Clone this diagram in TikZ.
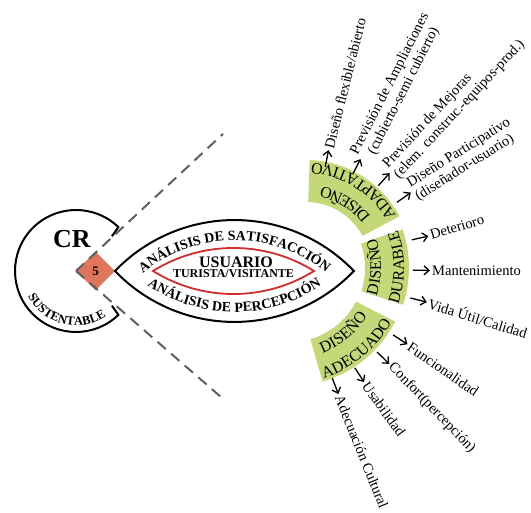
\documentclass[tikz,border=0pt]{standalone}
\usepackage{fontspec}
\setmainfont{Liberation Serif}
\usetikzlibrary{calc,shapes.geometric,decorations.text,arrows.meta}

\definecolor{blockgreen}{RGB}{196,216,122}
\definecolor{coral}{RGB}{222,118,92}
\definecolor{lensred}{RGB}{208,45,45}
\definecolor{dashgray}{RGB}{95,95,95}

\newcommand\blockfont{\fontsize{16}{16}\selectfont}
\newcommand\lensfont{\bfseries\fontsize{14}{14}\selectfont}

\begin{document}
\begin{tikzpicture}[x=1pt, y=1pt,
    lbl/.style={font=\fontsize{14.5}{15.5}\selectfont, inner sep=2pt},
    arr/.style={line width=1.3pt, -{Straight Barb[length=5pt,width=9pt]}},
    dashline/.style={dashgray, line width=2pt, dash pattern=on 11pt off 7pt},
    curvetext/.style={decorate, decoration={text along path, text align=center, text={#1}}}]
  \useasboundingbox (0,0) rectangle (531,513);
  \coordinate (c0) at (76,242);
  \coordinate (sA) at (306,247);
  \coordinate (sD) at (290,245);
  \coordinate (lensT) at (234.5,127.5);
  \coordinate (lensB) at (234.5,356.5);

  % CR circle
  \draw[line width=2pt] ($(c0)+(44:50)$) -- ($(c0)+(46:61)$)
    arc[start angle=46, end angle=314, radius=61] -- ($(c0)+(-44:50)$);
  \node[font=\bfseries\fontsize{26}{26}\selectfont] (cr) at (72,274) {CR};
  \path[curvetext={|\bfseries\fontsize{12.5}{12.5}\selectfont|SUSTENTABLE}]
    ($(c0)+(196:54.5)$) arc[start angle=196, end angle=316, radius=54.5];

  \node[diamond, fill=coral, minimum width=39pt, minimum height=39pt, inner sep=0pt,
    font=\bfseries\fontsize{13}{13}\selectfont] (n5) at (95.5,242) {5};
  \coordinate (du) at ($(c0)+(43:201)$);
  \coordinate (dl) at ($(c0)+(-41:195)$);
  \draw[dashline] (c0) -- (du);
  \draw[dashline] (c0) -- (dl);

  % lens
  \draw[line width=2pt] (115,242) arc[start angle=136.2, end angle=43.8, radius=165.5]
    arc[start angle=-43.8, end angle=-136.2, radius=165.5] -- cycle;
  \draw[lensred, line width=1.8pt] (153,242) arc[start angle=121.9, end angle=58.1, radius=152.4]
    arc[start angle=-58.1, end angle=-121.9, radius=152.4] -- cycle;
  \path[curvetext={|\lensfont|ANÁLISIS DE SATISFACCIÓN}]
    ($(lensT)+(150:145)$) arc[start angle=150, end angle=30, radius=145];
  \path[curvetext={|\lensfont|ANÁLISIS DE PERCEPCIÓN}]
    ($(lensB)+(210:155.5)$) arc[start angle=210, end angle=330, radius=155.5];
  \node[font=\bfseries\fontsize{16}{16}\selectfont] (usr) at (236,251) {USUARIO};
  \node[font=\bfseries\fontsize{12}{12}\selectfont] (tur) at (233.5,239) {TURISTA/VISITANTE};

  % green blocks
  \foreach \c/\a/\b/\ri/\ro in {sA/28/88/64/106, sD/-18/19/75/119, sD/-74/-27/74/118}
    \fill[blockgreen] ($(\c)+(\a:\ri)$) arc[start angle=\a, end angle=\b, radius=\ri]
      -- ($(\c)+(\b:\ro)$) arc[start angle=\b, end angle=\a, radius=\ro] -- cycle;
  \path[curvetext={|\blockfont|DISEÑO}] ($(sA)+(0:81)$) arc[start angle=0, end angle=116, radius=81];
  \path[curvetext={|\blockfont|ADAPTATIVO}] ($(sA)+(0:103)$) arc[start angle=0, end angle=116, radius=103];
  \path[curvetext={|\blockfont|DISEÑO}] ($(sD)+(-60:91)$) arc[start angle=-60, end angle=61, radius=91];
  \path[curvetext={|\blockfont|DURABLE}] ($(sD)+(-60:114)$) arc[start angle=-60, end angle=61, radius=114];
  \path[curvetext={|\blockfont|DISEÑO}] ($(sD)+(-110:91)$) arc[start angle=-110, end angle=9, radius=91];
  \path[curvetext={|\blockfont|ADECUADO}] ($(sD)+(-110:115)$) arc[start angle=-110, end angle=9, radius=115];

  % arrows and labels
  \foreach \n/\c/\a/\r/\rot/\al/\txt in {
      f1/sA/79/101/76/left/{Diseño flexible/abierto},
      f2/sA/63/103/63/center/{Previsión de Ampliaciones\\(cubierto-semi cubierto)},
      f3/sA/48/108/47/left/{Previsión de Mejoras\\(elem. construc.-equipos-prod.)},
      f4/sA/35/111/32/left/{Diseño Participativo\\(diseñador-usuario)},
      d1/sD/13/125/17/left/{Deterioro},
      d2/sD/-1/123/0/left/{Mantenimiento},
      d3/sD/-14/124/-17/left/{Vida Útil/Calidad},
      e1/sD/-33/123/-35/left/{Funcionalidad},
      e2/sD/-44/121/-46/left/{Confort(percepción)},
      e3/sD/-57/119/-54/left/{Usabilidad},
      e4/sD/-69/118/-68/left/{Adecuación Cultural}} {
    \coordinate (a\n) at ($(\c)+(\a:\r)$);
    \node[lbl, rotate=\rot, anchor=west, align=\al] (l\n) at ($(\c)+(\a:\r+17)$) {\txt};
    \draw[arr] (a\n) -- (l\n.west);
  }
\end{tikzpicture}
\end{document}
